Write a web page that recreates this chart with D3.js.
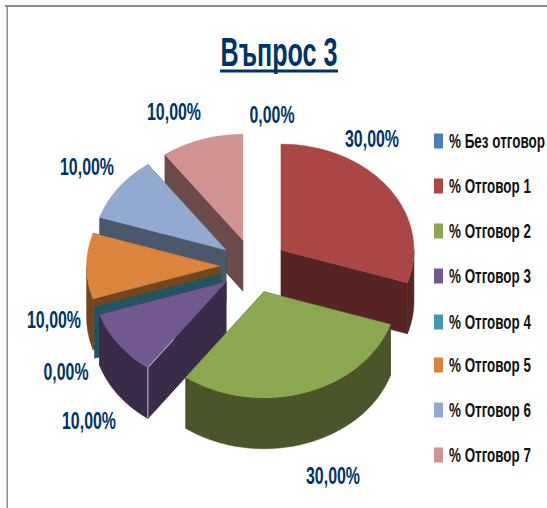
<!DOCTYPE html>
<html><head><meta charset="utf-8">
<script src="https://cdnjs.cloudflare.com/ajax/libs/d3/7.8.5/d3.min.js"></script>
<style>html,body{margin:0;padding:0;background:#fff}svg{display:block}</style>
</head><body><svg id="c" width="547" height="508"></svg>
<script>
const titleText = "Въпрос 3";
const categories = ["% Без отговор","% Отговор 1","% Отговор 2","% Отговор 3","% Отговор 4","% Отговор 5","% Отговор 6","% Отговор 7"];
const values = [0,30,30,10,0,10,10,10];
const topColors = ["#4a7ebb","#aa4644","#8ba74f","#71588f","#4198af","#db843d","#93a9cf","#d19392"];
const wallColors = ["#2c4a70","#552423","#4a5529","#3a2c49","#235461","#72471f","#4b576b","#6a4a4a"];
const legendColors = ["#4a7ebb","#aa4644","#8ba74f","#71588f","#4198af","#db843d","#93a9cf","#d19392"];
// layout
const W=547,H=508, cx=253.5, cy=266, rx=133, ry=106, explode=0.255, depth=51;
const labelCenters=[[272,115],[372,139],[333,476],[89,421],[66,372],[54,320],[87,167],[174,112]];
const legendY=[141,186,231,276,322,365,410,455];
const paintOrder=[0,7,6,5,4,3,1,2];
const navy="#003466";
const fontFamily="'Liberation Sans Narrow','Liberation Sans',sans-serif";

const svg=d3.select("#c");
const sx=d3.scaleLinear().domain([-1,1]).range([-rx,rx]);
const sy=d3.scaleLinear().domain([-1,1]).range([-ry,ry]);
const arcs=d3.pie().value(d=>d).sort(null)(values);
const line=d3.line();

function centre(a){const m=(a.startAngle+a.endAngle)/2;
  return [cx+explode*sx(Math.sin(m)), cy-explode*sy(Math.cos(m))];}
function rimPt(c,t,dz){return [c[0]+sx(Math.sin(t)), c[1]-sy(Math.cos(t))+(dz||0)];}
function rim(c,a0,a1,dz){const n=Math.max(2,Math.ceil((a1-a0)/0.03));
  return d3.range(n+1).map(i=>rimPt(c,a0+(a1-a0)*i/n,dz));}

// squeeze a text horizontally to a target width, keeping its anchor
function fit(sel,x,y,width,anchor){
  const w=sel.node().getComputedTextLength();
  const k=Math.min(1,width/w);
  sel.attr("text-anchor",anchor).attr("transform",`translate(${x},${y}) scale(${k},1)`);
}

// frame
svg.append("rect").attr("x",5).attr("y",5).attr("width",W).attr("height",2).attr("fill","#8c8c8c");
svg.append("rect").attr("x",6.5).attr("y",5).attr("width",1.5).attr("height",H).attr("fill","#8c8c8c");

const g=svg.append("g");
paintOrder.forEach(i=>{
  const a=arcs[i], c=centre(a), a0=a.startAngle, a1=a.endAngle;
  // radial walls (a wall seen exactly edge-on has no area and is skipped)
  [a1,a0].forEach(t=>{
    if(Math.abs(Math.sin(t))<1e-6) return;
    const p=rimPt(c,t);
    g.append("path").attr("d",line([c,p,[p[0],p[1]+depth],[c[0],c[1]+depth]])+"Z")
      .attr("fill",wallColors[i]).attr("stroke",wallColors[i]).attr("stroke-width",0.5);
  });
  // outer wall (front half only)
  const s=Math.max(a0,Math.PI/2), e=Math.min(a1,3*Math.PI/2);
  if(e>s){
    const up=rim(c,s,e,0), dn=rim(c,s,e,depth).reverse();
    g.append("path").attr("d",line(up.concat(dn))+"Z")
      .attr("fill",wallColors[i]).attr("stroke",wallColors[i]).attr("stroke-width",0.5);
  }
  // top
  if(a1>a0){
    g.append("path").attr("d",line([c].concat(rim(c,a0,a1,0)))+"Z")
      .attr("fill",topColors[i]).attr("stroke",topColors[i]).attr("stroke-width",0.4);
  }
  // light edge on the purple slice
  if(i===3){
    const p=rimPt(c,a0);
    g.append("path").attr("d",line([[p[0],p[1]+depth],p,[p[0]+(c[0]-p[0])/3,p[1]+(c[1]-p[1])/3]]))
      .attr("fill","none").attr("stroke","#c4c0cc").attr("stroke-width",1);
  }
});

// title
svg.append("text").attr("font-family",fontFamily).attr("font-weight",700)
  .attr("font-size",41).attr("fill",navy).text(titleText)
  .call(fit,279,66,117,"middle");
svg.append("rect").attr("x",220).attr("y",69.5).attr("width",118).attr("height",3).attr("fill",navy);

// data labels
svg.append("g").selectAll("text").data(values).join("text")
  .attr("font-family",fontFamily).attr("font-weight",700).attr("font-size",23).attr("fill",navy)
  .text(d=>d3.format(".2f")(d).replace(".",",")+"%")
  .each(function(d,i){ d3.select(this).call(fit,labelCenters[i][0],labelCenters[i][1]+8,d>=10?54:45,"middle"); });

// legend
const lg=svg.append("g");
const lgw=[96,82,82,82,82,82,82,82];
categories.forEach((n,i)=>{
  lg.append("rect").attr("x",434).attr("y",legendY[i]-7.5).attr("width",9).attr("height",15).attr("fill",legendColors[i]);
  lg.append("text").attr("font-family",fontFamily).attr("font-weight",700)
    .attr("font-size",20.5).attr("fill","#111").text(n)
    .call(fit,449,legendY[i]+7,lgw[i],"start");
});
</script></body></html>
